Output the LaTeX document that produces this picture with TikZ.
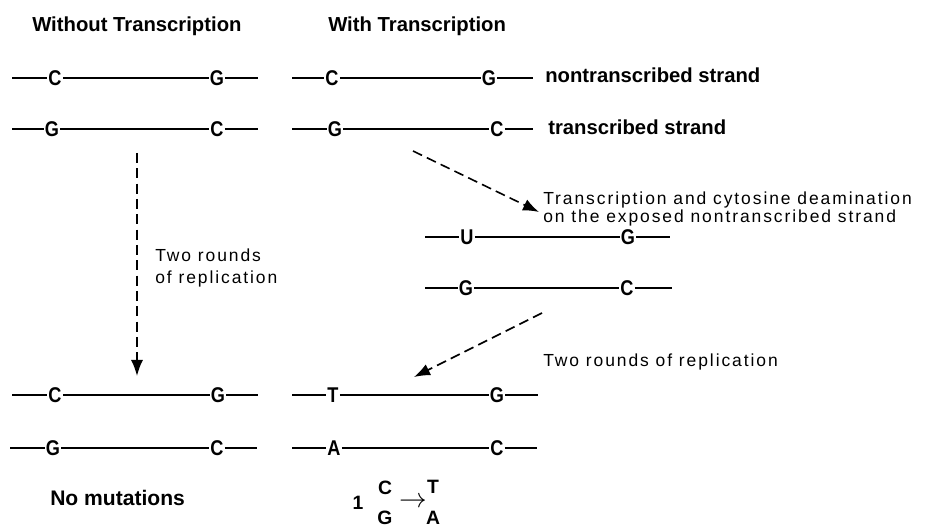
\documentclass[tikz,border=0pt]{standalone}
\usepackage{fontspec}
\setmainfont{Liberation Sans}
\newfontfamily\tracked[LetterSpace=11]{Liberation Sans}
\newfontfamily\narrowbold[FakeStretch=0.85]{Liberation Sans}
\usetikzlibrary{arrows.meta}
\begin{document}
\begin{tikzpicture}[x=0.75pt,y=-0.75pt,
  heading/.style={font=\fontsize{15.2}{18}\selectfont\bfseries, inner sep=0pt, anchor=base west},
  strandlabel/.style={font=\fontsize{15.2}{18}\selectfont\bfseries, inner sep=0pt, anchor=base west},
  note/.style={font=\tracked\fontsize{13.1}{17}\selectfont, inner sep=0pt, align=left},
  base/.style={font=\narrowbold\fontsize{16}{18}\selectfont\bfseries, inner sep=0.8pt},
  pairbase/.style={font=\fontsize{14.5}{16}\selectfont\bfseries, inner sep=0pt},
  strand/.style={line width=1.1pt},
  dasharrow/.style={line width=1.2pt, dash pattern=on 7.5pt off 4pt,
    -{Latex[length=12pt,width=9pt]}}
]
\useasboundingbox (0,0) rectangle (929,527);

% column headings
\node[heading] (hwo) at (32,31.5) {Without Transcription};
\node[heading] (hw) at (328,31.5) {With Transcription};

% ---- without transcription: starting duplex
\coordinate (l1a) at (12,78);  \coordinate (l1b) at (258,78);
\node[base] (l1c) at (55,78) {C};
\node[base] (l1g) at (217,78) {G};
\draw[strand] (l1a) -- (l1c) -- (l1g) -- (l1b);

\coordinate (l2a) at (12,129); \coordinate (l2b) at (258,129);
\node[base] (l2g) at (52,129) {G};
\node[base] (l2c) at (217,129) {C};
\draw[strand] (l2a) -- (l2g) -- (l2c) -- (l2b);

% ---- with transcription: starting duplex
\coordinate (r1a) at (292,78); \coordinate (r1b) at (533,78);
\node[base] (r1c) at (332,78) {C};
\node[base] (r1g) at (489,78) {G};
\draw[strand] (r1a) -- (r1c) -- (r1g) -- (r1b);
\node[strandlabel] (lnt) at (545,83) {nontranscribed strand};

\coordinate (r2a) at (292,129); \coordinate (r2b) at (533,129);
\node[base] (r2g) at (335,129) {G};
\node[base] (r2c) at (497,129) {C};
\draw[strand] (r2a) -- (r2g) -- (r2c) -- (r2b);
\node[strandlabel] (lts) at (548,135) {transcribed strand};

% ---- deaminated intermediate
\coordinate (m1a) at (425,237); \coordinate (m1b) at (670,237);
\node[base] (m1u) at (467,237) {U};
\node[base] (m1g) at (628,237) {G};
\draw[strand] (m1a) -- (m1u) -- (m1g) -- (m1b);

\coordinate (m2a) at (425,288); \coordinate (m2b) at (672,288);
\node[base] (m2g) at (466,288) {G};
\node[base] (m2c) at (627,288) {C};
\draw[strand] (m2a) -- (m2g) -- (m2c) -- (m2b);

% ---- products after replication, left
\coordinate (b1a) at (12,395); \coordinate (b1b) at (258,395);
\node[base] (b1c) at (55,395) {C};
\node[base] (b1g) at (218,395) {G};
\draw[strand] (b1a) -- (b1c) -- (b1g) -- (b1b);

\coordinate (b2a) at (10,448); \coordinate (b2b) at (257,448);
\node[base] (b2g) at (53,448) {G};
\node[base] (b2c) at (217,448) {C};
\draw[strand] (b2a) -- (b2g) -- (b2c) -- (b2b);

% ---- products after replication, right
\coordinate (c1a) at (292,395); \coordinate (c1b) at (538,395);
\node[base] (c1t) at (333,395) {T};
\node[base] (c1g) at (497,395) {G};
\draw[strand] (c1a) -- (c1t) -- (c1g) -- (c1b);

\coordinate (c2a) at (292,448); \coordinate (c2b) at (537,448);
\node[base] (c2a2) at (334,448) {A};
\node[base] (c2c) at (497,448) {C};
\draw[strand] (c2a) -- (c2a2) -- (c2c) -- (c2b);

% ---- process arrows
\coordinate (v1) at (137,153); \coordinate (v2) at (137,376);
\draw[dasharrow] (v1) -- (v2);
\node[note, anchor=west] (tleft) at (155,268) {Two rounds\\of replication};

\coordinate (d1) at (413,151); \coordinate (d2) at (539,212);
\draw[dasharrow] (d1) -- (d2);
\node[note, anchor=west, font=\tracked\fontsize{13.1}{13.5}\selectfont] (tdeam) at (543,209)
  {Transcription and cytosine deamination\\on the exposed nontranscribed strand};

\coordinate (e1) at (542,313); \coordinate (e2) at (414,377);
\draw[dasharrow] (e1) -- (e2);
\node[note, anchor=base west] (tright) at (543,367) {Two rounds of replication};

% ---- outcome
\node[heading, font=\fontsize{15.8}{18}\selectfont\bfseries] (nomut) at (50,505) {No mutations};
\node[pairbase] (one) at (358,503) {1};
\node[pairbase] (pc) at (385,488) {C};
\node[pairbase] (pg) at (385,518) {G};
\node[inner sep=0pt, font=\fontsize{20}{20}\selectfont] (parrow) at (413,502) {$\rightarrow$};
\node[pairbase] (pt) at (433,487) {T};
\node[pairbase] (pa) at (433,518) {A};
\end{tikzpicture}
\end{document}
